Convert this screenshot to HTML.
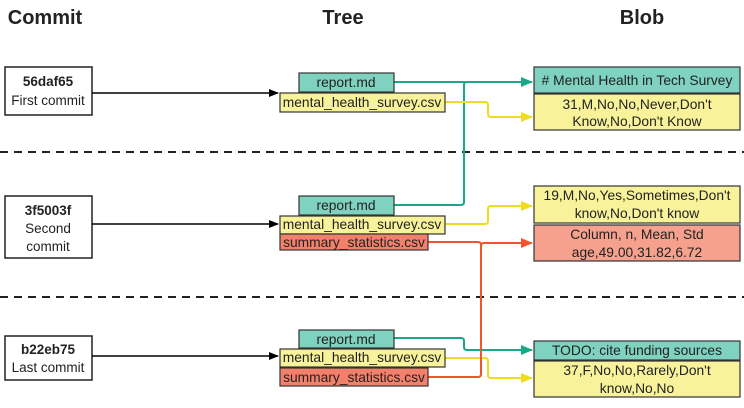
<!DOCTYPE html>
<html><head><meta charset="utf-8"><style>
body{margin:0;width:744px;height:403px;background:#fff;overflow:hidden;font-family:"Liberation Sans","DejaVu Sans",sans-serif}
</style></head><body>
<svg width="744" height="403" xmlns="http://www.w3.org/2000/svg" font-family="Liberation Sans, DejaVu Sans, sans-serif">
<defs>
<marker id="ab" markerWidth="10" markerHeight="8" refX="9" refY="4" orient="auto" markerUnits="userSpaceOnUse"><path d="M0,0 L10,4 L0,8 z" fill="#000"/></marker>
<marker id="at" markerWidth="12" markerHeight="10" refX="11" refY="5" orient="auto" markerUnits="userSpaceOnUse"><path d="M0,0 L12,5 L0,10 z" fill="#1aa88a"/></marker>
<marker id="ay" markerWidth="12" markerHeight="10" refX="11" refY="5" orient="auto" markerUnits="userSpaceOnUse"><path d="M0,0 L12,5 L0,10 z" fill="#f0dc1e"/></marker>
<marker id="ar" markerWidth="12" markerHeight="10" refX="11" refY="5" orient="auto" markerUnits="userSpaceOnUse"><path d="M0,0 L12,5 L0,10 z" fill="#f2552c"/></marker>
</defs>
<g font-weight="bold" font-size="20" text-anchor="middle" fill="#222">
<text x="45" y="24">Commit</text><text x="343" y="24">Tree</text><text x="642" y="24">Blob</text></g>
<g stroke="#222" stroke-width="2" stroke-dasharray="8,6"><line x1="0" y1="152" x2="744" y2="152"/><line x1="0" y1="297" x2="744" y2="297"/></g>
<g stroke="#222" stroke-width="1.5" fill="#fff">
<rect x="5" y="67" width="87" height="48"/><rect x="5" y="196" width="87" height="62"/><rect x="5" y="336" width="87" height="44"/></g>
<g font-size="13.5" text-anchor="middle" fill="#222">
<text x="48" y="86" font-weight="bold">56daf65</text><text x="48" y="105">First commit</text>
<text x="48" y="215" font-weight="bold">3f5003f</text><text x="48" y="233">Second</text><text x="48" y="251">commit</text>
<text x="48" y="354" font-weight="bold">b22eb75</text><text x="48" y="372">Last commit</text></g>
<g stroke="#000" stroke-width="1.5"><line x1="92" y1="93" x2="278" y2="93" marker-end="url(#ab)"/><line x1="92" y1="224" x2="278" y2="224" marker-end="url(#ab)"/><line x1="92" y1="356" x2="278" y2="356" marker-end="url(#ab)"/></g>
<g fill="none" stroke-width="2">
<path d="M394,82 H532" stroke="#1aa88a" marker-end="url(#at)"/>
<path d="M394,205 H461 Q464,205 464,202 V85 Q464,82 467,82" stroke="#1aa88a"/>
<path d="M394,338 H461 Q464,338 464,341 V347 Q464,350 467,350 H532" stroke="#1aa88a" marker-end="url(#at)"/>
<path d="M445,102 H485 Q488,102 488,105 V114 Q488,117 491,117 H532" stroke="#f0dc1e" marker-end="url(#ay)"/>
<path d="M445,224 H485 Q488,224 488,221 V209 Q488,206 491,206 H532" stroke="#f0dc1e" marker-end="url(#ay)"/>
<path d="M445,358 H485 Q488,358 488,361 V375 Q488,378 491,378 H532" stroke="#f0dc1e" marker-end="url(#ay)"/>
<path d="M428,242 H478 Q481,242 481,245 V374 Q481,377 478,377 H428" stroke="#f2552c"/>
<path d="M481,246 Q481,243 484,243 H532" stroke="#f2552c" marker-end="url(#ar)"/>
</g>
<g stroke="#333" stroke-width="1.2" font-size="13" text-anchor="middle" fill="#222">
<rect x="299" y="73" width="95" height="19" fill="#7fd1c0"/><rect x="280" y="93" width="165" height="19" fill="#f8f39a"/>
<rect x="299" y="196" width="95" height="19" fill="#7fd1c0"/><rect x="280" y="216" width="165" height="18" fill="#f8f39a"/><rect x="280" y="234" width="148" height="16" fill="#f3806a"/>
<rect x="299" y="330" width="95" height="18" fill="#7fd1c0"/><rect x="280" y="349" width="165" height="18" fill="#f8f39a"/><rect x="280" y="368" width="148" height="18" fill="#f3806a"/>
<rect x="534" y="67" width="206" height="26" fill="#7fd1c0"/><rect x="534" y="94" width="206" height="36" fill="#f8f39a"/>
<rect x="534" y="186" width="206" height="37" fill="#f8f39a"/><rect x="534" y="225" width="206" height="36" fill="#f6a08e"/>
<rect x="534" y="341" width="206" height="19" fill="#7fd1c0"/><rect x="534" y="361" width="206" height="36" fill="#f8f39a"/>
</g>
<g font-size="13.8" text-anchor="middle" fill="#222">
<text x="346" y="87">report.md</text><text x="362" y="107">mental_health_survey.csv</text>
<text x="346" y="210">report.md</text><text x="362" y="229">mental_health_survey.csv</text><text x="354" y="247">summary_statistics.csv</text>
<text x="346" y="344">report.md</text><text x="362" y="362">mental_health_survey.csv</text><text x="354" y="382">summary_statistics.csv</text>
<text x="637" y="85"># Mental Health in Tech Survey</text>
<text x="637" y="109">31,M,No,No,Never,Don't</text><text x="637" y="126">Know,No,Don't Know</text>
<text x="637" y="200">19,M,No,Yes,Sometimes,Don't</text><text x="637" y="218">know,No,Don't know</text>
<text x="637" y="239">Column, n, Mean, Std</text><text x="637" y="257">age,49.00,31.82,6.72</text>
<text x="637" y="355">TODO: cite funding sources</text>
<text x="637" y="375">37,F,No,No,Rarely,Don't</text><text x="637" y="393">know,No,No</text>
</g>
</svg>
</body></html>
